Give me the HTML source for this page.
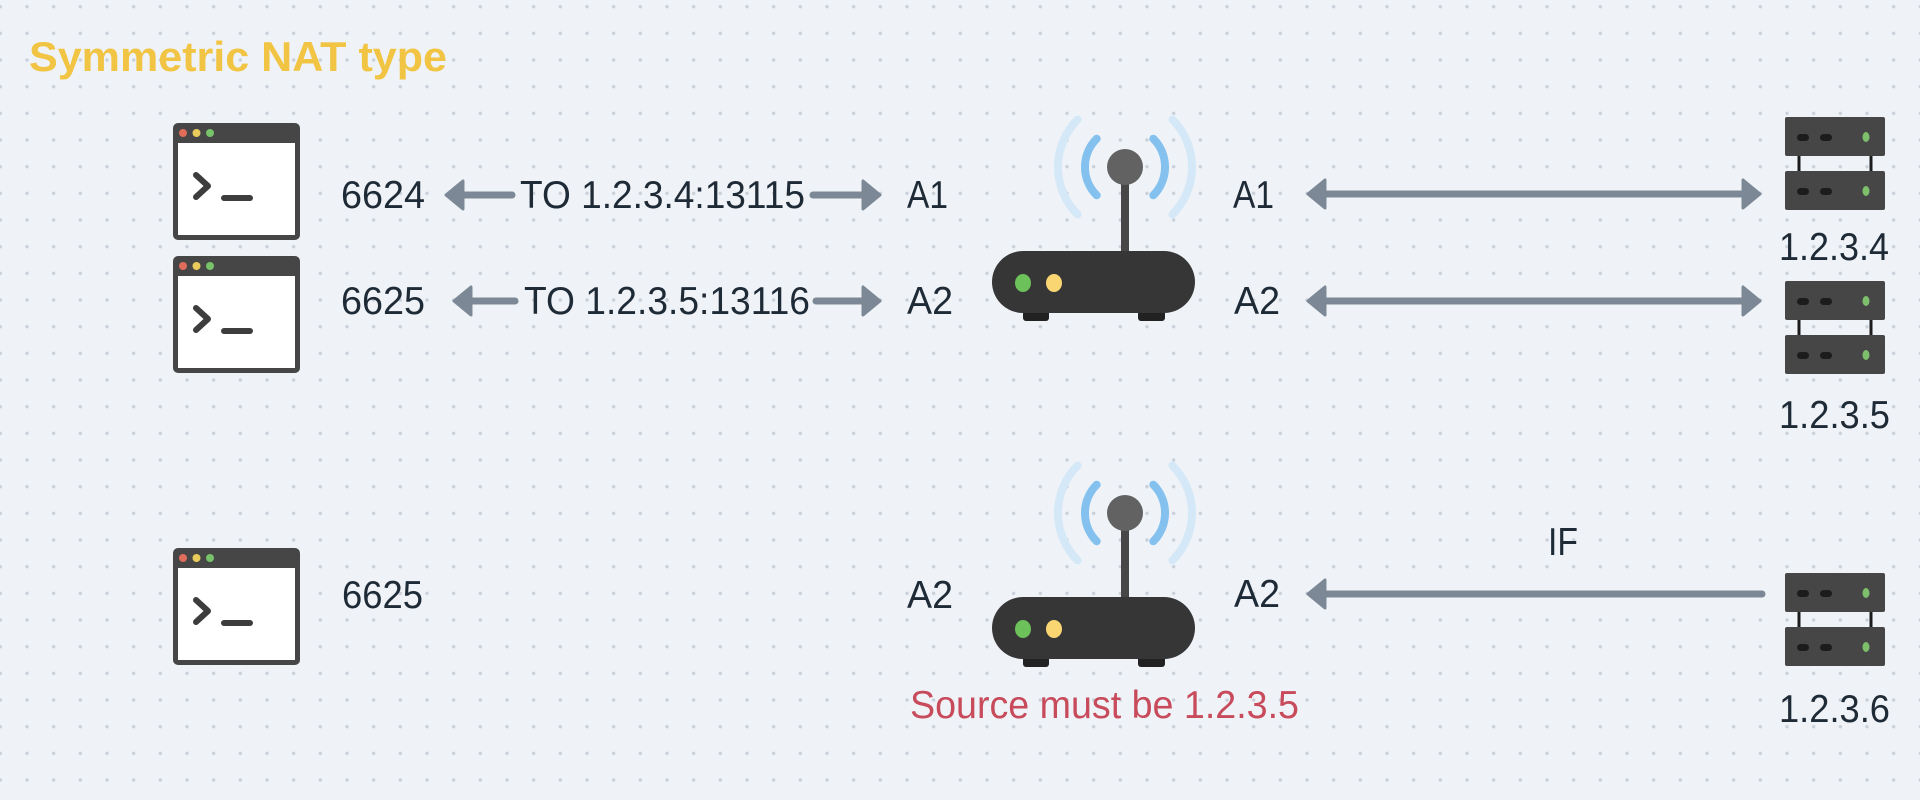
<!DOCTYPE html>
<html><head><meta charset="utf-8"><style>
html,body{margin:0;padding:0;background:#eff3f7;}
svg{display:block;}
text{font-family:"Liberation Sans",sans-serif;}
</style></head><body>
<svg width="1920" height="800" viewBox="0 0 1920 800" xmlns="http://www.w3.org/2000/svg">
<defs>
<pattern id="dots" x="0.33" y="6.7" width="26.667" height="26.667" patternUnits="userSpaceOnUse">
<circle cx="0" cy="0" r="1.7" fill="#c9d0da"/><circle cx="26.667" cy="0" r="1.7" fill="#c9d0da"/>
<circle cx="0" cy="26.667" r="1.7" fill="#c9d0da"/><circle cx="26.667" cy="26.667" r="1.7" fill="#c9d0da"/>
</pattern>
<g id="term">
<rect x="0" y="0" width="127" height="117" rx="5" fill="#464646"/>
<rect x="5" y="20" width="117" height="92" fill="#ffffff"/>
<circle cx="10" cy="10" r="4" fill="#e06c5a"/>
<circle cx="23.5" cy="10" r="4" fill="#e8cb5a"/>
<circle cx="37" cy="10" r="4" fill="#78c26a"/>
<polyline points="23,52 35,63 23,74" fill="none" stroke="#3d3d3d" stroke-width="6" stroke-linecap="round" stroke-linejoin="round"/>
<line x1="51" y1="75" x2="77" y2="75" stroke="#3d3d3d" stroke-width="6" stroke-linecap="round"/>
</g>
<g id="router">
<path d="M1077.6,-47.4 A67,67 0 0 0 1077.6,47.4" fill="none" stroke="#d4e8f8" stroke-width="8" stroke-linecap="round"/>
<path d="M1172.4,-47.4 A67,67 0 0 1 1172.4,47.4" fill="none" stroke="#d4e8f8" stroke-width="8" stroke-linecap="round"/>
<path d="M1096.7,-28.3 A40,40 0 0 0 1096.7,28.3" fill="none" stroke="#84c1ef" stroke-width="8" stroke-linecap="round"/>
<path d="M1153.3,-28.3 A40,40 0 0 1 1153.3,28.3" fill="none" stroke="#84c1ef" stroke-width="8" stroke-linecap="round"/>
<rect x="1121" y="10" width="8" height="76" fill="#474747"/>
<circle cx="1125" cy="0" r="18" fill="#626262"/>
<rect x="1023" y="136" width="26" height="18" rx="3" fill="#222"/>
<rect x="1138" y="136" width="27" height="18" rx="3" fill="#222"/>
<rect x="992" y="84" width="203" height="62" rx="31" fill="#363636"/>
<ellipse cx="1023" cy="116" rx="8" ry="9" fill="#6cc15a"/>
<ellipse cx="1054" cy="116" rx="8" ry="9" fill="#fad673"/>
</g>
<g id="srvunit">
<rect x="0" y="0" width="100" height="39" rx="2" fill="#464646"/>
<rect x="12" y="17" width="12" height="7" rx="3.5" fill="#1c1c1c"/>
<rect x="35" y="17" width="12" height="7" rx="3.5" fill="#1c1c1c"/>
<ellipse cx="81" cy="20" rx="3.5" ry="5" fill="#7dc06b"/>
</g>
<g id="server">
<line x1="14" y1="30" x2="14" y2="65" stroke="#1c1c1c" stroke-width="3"/>
<line x1="86" y1="30" x2="86" y2="65" stroke="#1c1c1c" stroke-width="3"/>
<use href="#srvunit" x="0" y="0"/>
<use href="#srvunit" x="0" y="54"/>
</g>
</defs>
<rect width="1920" height="800" fill="#eff3f7"/>
<rect width="1920" height="800" fill="url(#dots)"/>

<text x="29" y="71" font-size="42" font-weight="bold" fill="#f2c443" textLength="418" lengthAdjust="spacingAndGlyphs">Symmetric NAT type</text>

<use href="#term" x="173" y="123"/>
<use href="#term" x="173" y="256"/>
<use href="#term" x="173" y="548"/>

<use href="#router" x="0" y="167"/>
<use href="#router" x="0" y="513"/>

<use href="#server" x="1785" y="117"/>
<use href="#server" x="1785" y="281"/>
<use href="#server" x="1785" y="573"/>

<g fill="#1f2a37" font-size="39">
<text x="341" y="208" textLength="84" lengthAdjust="spacingAndGlyphs">6624</text>
<text x="520" y="208" textLength="285" lengthAdjust="spacingAndGlyphs">TO 1.2.3.4:13115</text>
<text x="907" y="208" textLength="41" lengthAdjust="spacingAndGlyphs">A1</text>
<text x="1233" y="208" textLength="41" lengthAdjust="spacingAndGlyphs">A1</text>
<text x="341" y="314" textLength="84" lengthAdjust="spacingAndGlyphs">6625</text>
<text x="524" y="314" textLength="286" lengthAdjust="spacingAndGlyphs">TO 1.2.3.5:13116</text>
<text x="907" y="314" textLength="46" lengthAdjust="spacingAndGlyphs">A2</text>
<text x="1234" y="314" textLength="46" lengthAdjust="spacingAndGlyphs">A2</text>
<text x="342" y="608" textLength="81" lengthAdjust="spacingAndGlyphs">6625</text>
<text x="907" y="608" textLength="46" lengthAdjust="spacingAndGlyphs">A2</text>
<text x="1234" y="607" textLength="46" lengthAdjust="spacingAndGlyphs">A2</text>
<text x="1548" y="555" textLength="30" lengthAdjust="spacingAndGlyphs">IF</text>
<text x="1779" y="260" textLength="110" lengthAdjust="spacingAndGlyphs">1.2.3.4</text>
<text x="1779" y="428" textLength="111" lengthAdjust="spacingAndGlyphs">1.2.3.5</text>
<text x="1779" y="722" textLength="111" lengthAdjust="spacingAndGlyphs">1.2.3.6</text>
</g>
<text x="910" y="718" font-size="39" fill="#c84b5c" textLength="389" lengthAdjust="spacingAndGlyphs">Source must be 1.2.3.5</text>

<g stroke="#7c8896" stroke-width="7" stroke-linecap="round" fill="#7c8896" stroke-linejoin="round">
<line x1="460" y1="195" x2="512" y2="195"/>
<polygon points="446,195 463,181 463,209" stroke-width="3"/>
<line x1="813" y1="195" x2="864" y2="195"/>
<polygon points="880,195 863,181 863,209" stroke-width="3"/>
<line x1="468" y1="301" x2="515" y2="301"/>
<polygon points="454,301 471,287 471,315" stroke-width="3"/>
<line x1="816" y1="301" x2="864" y2="301"/>
<polygon points="880,301 863,287 863,315" stroke-width="3"/>
<line x1="1320" y1="194" x2="1748" y2="194"/>
<polygon points="1308,194 1325,180 1325,208" stroke-width="3"/>
<polygon points="1760,194 1743,180 1743,208" stroke-width="3"/>
<line x1="1320" y1="301" x2="1748" y2="301"/>
<polygon points="1308,301 1325,287 1325,315" stroke-width="3"/>
<polygon points="1760,301 1743,287 1743,315" stroke-width="3"/>
<line x1="1320" y1="594" x2="1762" y2="594"/>
<polygon points="1308,594 1325,580 1325,608" stroke-width="3"/>
</g>
</svg>
</body></html>
